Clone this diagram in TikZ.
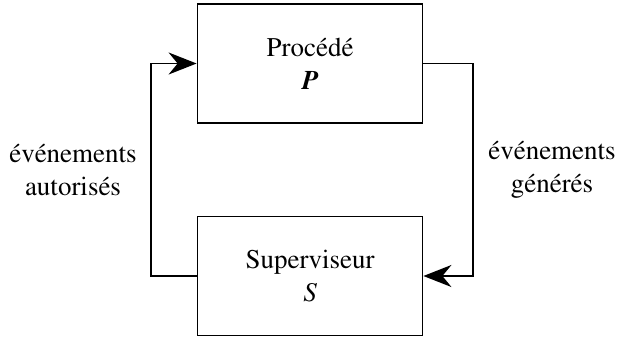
\documentclass[tikz,border=0pt]{standalone}
\usepackage[T1]{fontenc}
\usepackage{times}
\usetikzlibrary{arrows.meta}

\begin{document}
\begin{tikzpicture}[x=1pt, y=1pt, line width=1.8pt,
		bloc/.style={draw, minimum width=225pt, minimum height=119pt, align=center, inner sep=0pt,
			font=\fontsize{27}{33}\selectfont},
		etiq/.style={align=center, inner sep=0pt, font=\fontsize{27}{33}\selectfont},
		fleche/.style={-{Stealth[length=28pt, width=22pt, inset=9pt]}}]
		\useasboundingbox (0,0) rectangle (617,338);
		\node[bloc] (proc) at (310,274.5) {Procédé\\ {\bfseries\itshape P}};
		\node[bloc] (sup) at (310,62) {Superviseur\\ {\itshape S}};
		% retour a gauche : evenements autorises
		\coordinate (g) at (151,62);
		\draw[fleche] (sup.west) -- (g) |- (proc.west);
		% aller a droite : evenements generes
		\coordinate (d) at (473,274.5);
		\draw[fleche] (proc.east) -- (d) |- (sup.east);
		\node[etiq] (aut) at (73,168) {événements\\ autorisés};
		\node[etiq] (gen) at (552,168) {événements\\ générés};
	\end{tikzpicture}
\end{document}
